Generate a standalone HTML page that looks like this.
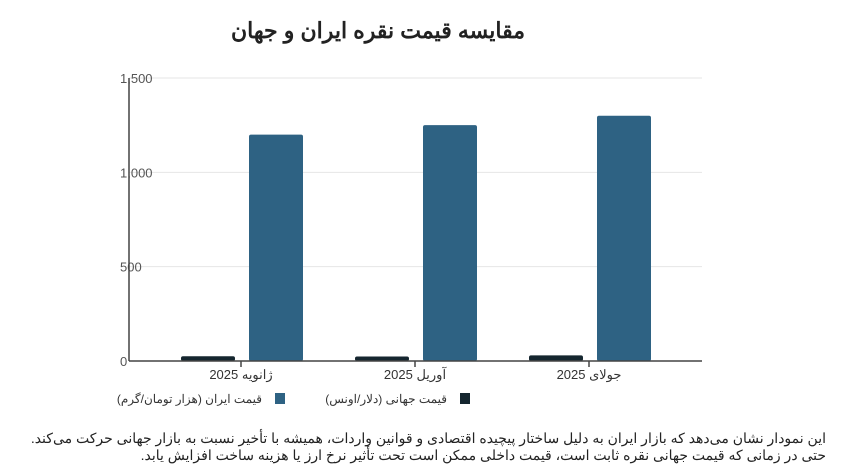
<!DOCTYPE html>
<html><head><meta charset="utf-8"><style>
body{margin:0;background:#fff;width:854px;height:476px;overflow:hidden;font-family:"Liberation Sans","Noto Sans CJK SC",sans-serif;}
.t{position:absolute;white-space:nowrap;direction:rtl;}
</style></head><body>
<div class="t" style="left:0;width:756px;text-align:center;top:18px;font-size:22px;font-weight:bold;color:#222;direction:rtl">مقایسه قیمت نقره ایران و جهان</div>
<svg id="c" width="854" height="476" style="position:absolute;left:0;top:0"></svg>
<div class="t" style="right:28px;top:430px;font-size:14px;line-height:17px;color:#222;text-align:right">این نمودار نشان می‌دهد که بازار ایران به دلیل ساختار پیچیده اقتصادی و قوانین واردات، همیشه با تأخیر نسبت به بازار جهانی حرکت می‌کند.<br>حتی در زمانی که قیمت جهانی نقره ثابت است، قیمت داخلی ممکن است تحت تأثیر نرخ ارز یا هزینه ساخت افزایش یابد.</div>
<script>
const categories=["ژانویه 2025","آوریل 2025","جولای 2025"];
const worldValues=[25,24,30];
const iranValues=[1200,1250,1300];
const yTicks=[0,500,1000,1500];
const yTickLabels=["0","500","1,000","1,500"];
const seriesNames=["قیمت ایران (هزار تومان/گرم)","قیمت جهانی (دلار/اونس)"];
const svg=document.getElementById('c');const NS='http://www.w3.org/2000/svg';
function mk(t,a){const e=document.createElementNS(NS,t);for(const k in a)e.setAttribute(k,a[k]);svg.appendChild(e);return e;}
const y0=361,y1=78,yMax=1500;const y=v=>y0-(v/yMax)*(y0-y1);
const x=i=>241+174*i;
yTicks.forEach((v,i)=>{
 const g=mk('line',{x1:129,x2:702,y1:y(v),y2:y(v),stroke:'#e6e6e6','stroke-width':1});
 
 
 const t=mk('text',{x:120,y:y(v)+5,'font-size':13,fill:'#555','font-family':'Liberation Sans'});t.textContent=yTickLabels[i];
 
 
});
categories.forEach((c,i)=>{
 const cx=x(i);
 const hw=y0-y(worldValues[i]);
 const b1=mk('rect',{x:cx-60,y:y(worldValues[i]),width:54,height:hw,rx:2,fill:'#15262f'});
 
 
 const b2=mk('rect',{x:cx+8,y:y(iranValues[i]),width:54,height:y0-y(iranValues[i]),rx:2,fill:'#2e6283'});
 
 
 const tk=mk('line',{x1:cx,x2:cx,y1:y0,y2:y0+6,stroke:'#444','stroke-width':1.5});
 
 
 const t=mk('text',{x:cx,y:y0+18,'font-size':13,fill:'#333','text-anchor':'middle',direction:'rtl','font-family':'Liberation Sans, Noto Sans CJK SC'});t.textContent=c;
 
 
});
const ax=mk('line',{x1:129,x2:702,y1:y0,y2:y0,stroke:'#444','stroke-width':1.5});


const ay=mk('line',{x1:129,x2:129,y1:y1,y2:y0,stroke:'#444','stroke-width':1.5});


[[275,'#2e6283',262,0],[460,'#15262f',447,1]].forEach(l=>{
 const r=mk('rect',{x:l[0],y:393,width:10,height:11,fill:l[1]});
 
 
 const t=mk('text',{x:l[2],y:403,'font-size':12,fill:'#333','text-anchor':'start',direction:'rtl','font-family':'Liberation Sans, Noto Sans CJK SC'});t.textContent=seriesNames[l[3]];
 
 
});
</script>
</body></html>
